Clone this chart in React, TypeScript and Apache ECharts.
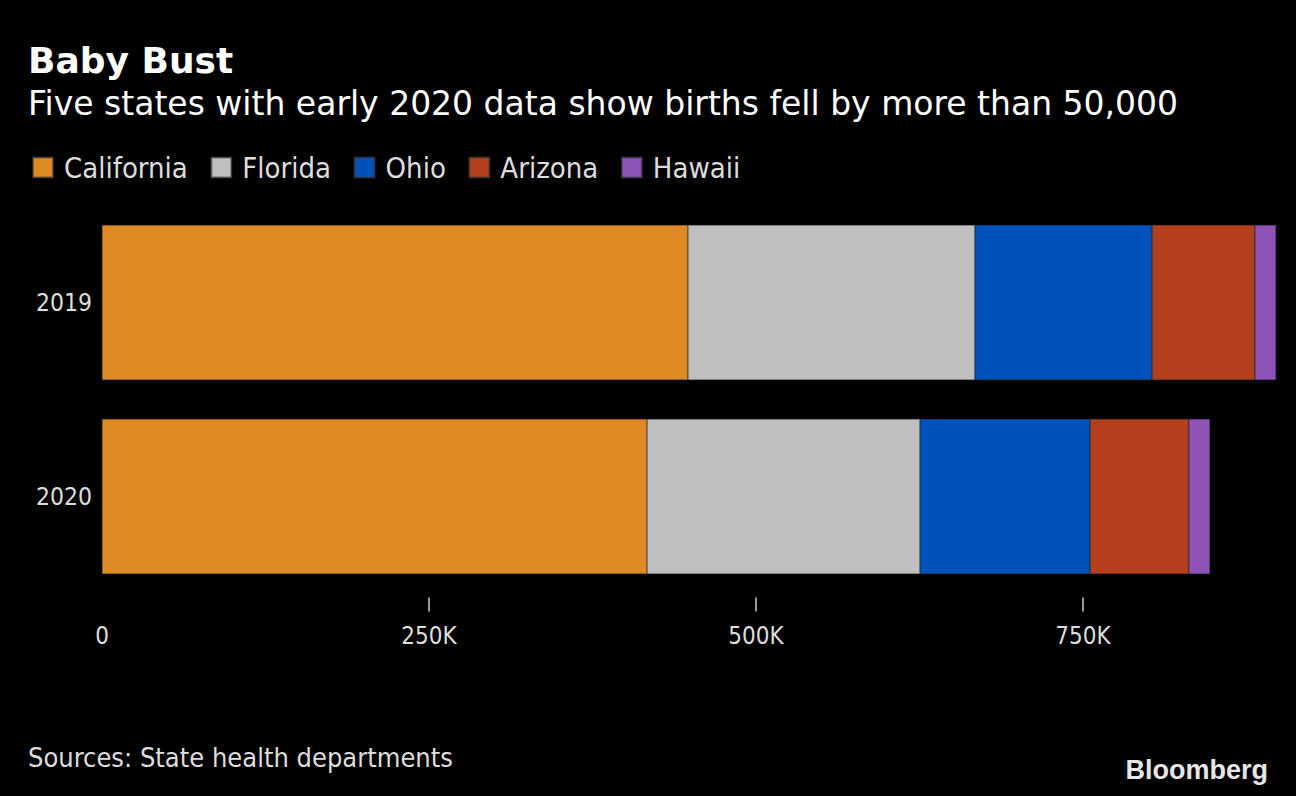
import React, { useEffect, useRef } from "react";
import * as echarts from "echarts";

const years = ["2019", "2020"];
const states = ["California", "Florida", "Ohio", "Arizona", "Hawaii"];
const colors = ["#dd8a24", "#bfbfbf", "#0052bb", "#b33f1d", "#8f53b8"];
const california = [448000, 416700];
const florida = [219400, 208700];
const ohio = [135400, 130000];
const arizona = [78700, 75600];
const hawaii = [16100, 16100];
const tickValues = [250000, 500000, 750000];
const labelValues = [0, 250000, 500000, 750000];

const seriesValues = [california, florida, ohio, arizona, hawaii];
const COND = "'DejaVu Sans Condensed', 'DejaVu Sans', sans-serif";
const WIDE = "'DejaVu Sans', sans-serif";

export default function App() {
  const ref = useRef<HTMLDivElement>(null);
  useEffect(() => {
    if (!ref.current) return;
    const chart = echarts.init(ref.current, undefined, { renderer: "svg" });
    chart.setOption({
      animation: false,
      backgroundColor: "#000",
      textStyle: { fontFamily: COND },
      title: [
        {
          text: "Baby Bust",
          left: 28,
          top: 42,
          padding: 0,
          textStyle: { color: "#fff", fontSize: 36, fontWeight: "bold", fontFamily: WIDE },
        },
        {
          text: "Five states with early 2020 data show births fell by more than 50,000",
          left: 28,
          top: 87,
          padding: 0,
          textStyle: { color: "#fff", fontSize: 33, fontWeight: "normal", fontFamily: WIDE },
        },
        {
          text: "Sources: State health departments",
          left: 28,
          top: 744,
          padding: 0,
          textStyle: { color: "#ddd", fontSize: 27, fontWeight: "normal", fontFamily: COND },
        },
        {
          text: "Bloomberg",
          right: 28,
          top: 756,
          padding: 0,
          textStyle: { color: "#e6e6e6", fontSize: 27, fontWeight: "bold", fontFamily: "'Liberation Sans Narrow', 'Liberation Sans', sans-serif" },
        },
      ],
      legend: {
        left: 27,
        top: 148,
        icon: "rect",
        itemWidth: 20,
        itemHeight: 20,
        itemGap: 22.5,
        data: states,
        textStyle: { color: "#ddd", fontSize: 29, fontFamily: COND, padding: [0, 0, 0, 6] },
      },
      grid: { left: 102, right: 20, top: 205.5, bottom: 202.5, containLabel: false },
      xAxis: {
        type: "value",
        min: 0,
        max: (v: any) => v.max,
        offset: 4,
        splitLine: { show: false },
        axisLine: { show: false },
        axisTick: { show: true, customValues: tickValues, length: 14, lineStyle: { color: "#ccc", width: 1.5 } },
        axisLabel: {
          customValues: labelValues,
          color: "#ddd",
          fontSize: 24,
          margin: 26,
          fontFamily: COND,
          formatter: (v: number) => (v === 0 ? "0" : v / 1000 + "K"),
        },
      },
      yAxis: {
        type: "category",
        data: years,
        inverse: true,
        axisLine: { show: false },
        axisTick: { show: false },
        axisLabel: { color: "#ddd", fontSize: 24.5, margin: 10, fontFamily: COND },
      },
      series: states.map((name, i) => ({
        name,
        type: "bar",
        stack: "total",
        barCategoryGap: "20%",
        data: seriesValues[i],
        itemStyle: { color: colors[i], borderColor: "rgba(60,60,60,0.6)", borderWidth: 0.5 },
      })),
    });
    return () => chart.dispose();
  }, []);
  return (
    <div
      ref={ref}
      style={{ position: "fixed", left: 0, top: 0, width: 1296, height: 796, background: "#000" }}
    />
  );
}
